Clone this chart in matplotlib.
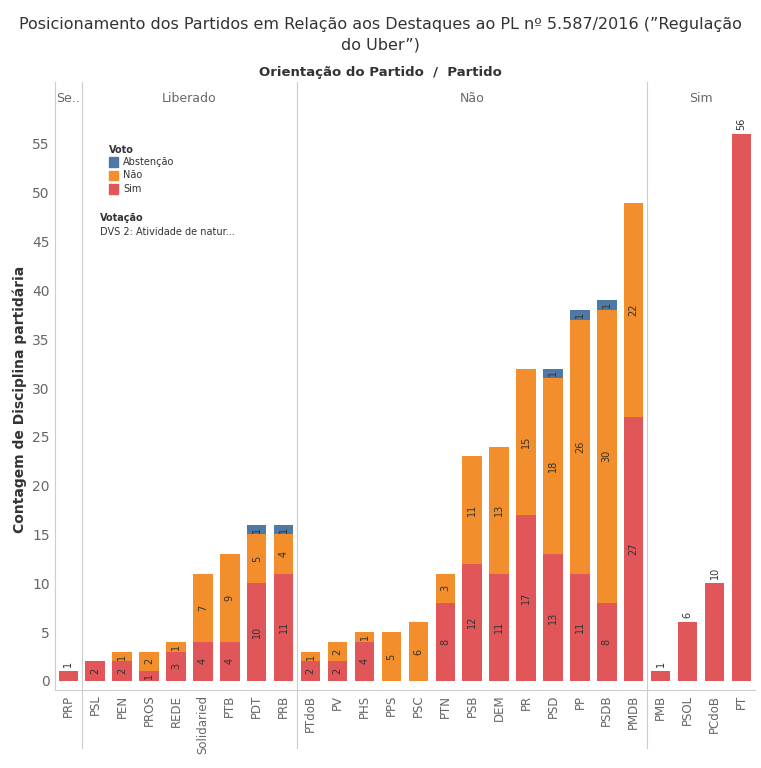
import matplotlib.pyplot as plt
from matplotlib.patches import Rectangle

groups = ['Se..', 'Liberado', 'Não', 'Sim']
group_parties = [
    ['PRP'],
    ['PSL', 'PEN', 'PROS', 'REDE', 'Solidaried', 'PTB', 'PDT', 'PRB'],
    ['PTdoB', 'PV', 'PHS', 'PPS', 'PSC', 'PTN', 'PSB', 'DEM', 'PR', 'PSD', 'PP', 'PSDB', 'PMDB'],
    ['PMB', 'PSOL', 'PCdoB', 'PT'],
]
sim = [1, 2, 2, 1, 3, 4, 4, 10, 11, 2, 2, 4, 0, 0, 8, 12, 11, 17, 13, 11, 8, 27, 1, 6, 10, 56]
nao = [0, 0, 1, 2, 1, 7, 9, 5, 4, 1, 2, 1, 5, 6, 3, 11, 13, 15, 18, 26, 30, 22, 0, 0, 0, 0]
abst = [0, 0, 0, 0, 0, 0, 0, 1, 1, 0, 0, 0, 0, 0, 0, 0, 0, 0, 1, 1, 1, 0, 0, 0, 0, 0]

c_sim, c_nao, c_abs = '#e15759', '#f28e2b', '#4e79a7'
gray = '#666666'

parties = [p for g in group_parties for p in g]
x = list(range(len(parties)))

fig = plt.figure(figsize=(7.61, 7.68), dpi=100)
ax = fig.add_axes([0.072, 0.102, 0.920, 0.755])
w = 0.72
ax.bar(x, sim, w, color=c_sim)
ax.bar(x, nao, w, bottom=sim, color=c_nao)
ax.bar(x, abst, w, bottom=[s + n for s, n in zip(sim, nao)], color=c_abs)

on_top = set(group_parties[0] + group_parties[3])
for i, p in enumerate(parties):
    if p in on_top:
        ax.text(i, sim[i] + 0.4, str(sim[i]), rotation=90, ha='center', va='bottom', fontsize=7, color='#333333')
        continue
    base = 0
    for v in (sim[i], nao[i], abst[i]):
        if v:
            ax.text(i, base + v / 2, str(v), rotation=90, ha='center', va='center', fontsize=7, color='#333333')
        base += v

ax.set_xlim(-0.5, len(parties) - 0.5)
ax.set_ylim(-0.9, 58.5)
ax.set_yticks(range(0, 56, 5))
ax.set_xticks(x)
ax.set_xticklabels(parties, rotation=90, fontsize=8.5, color=gray)
ax.tick_params(axis='y', colors=gray, labelsize=10, length=0)
ax.tick_params(axis='x', length=0)
for s in ['top', 'right']:
    ax.spines[s].set_visible(False)
ax.spines['left'].set_color('#cccccc')
ax.spines['bottom'].set_color('#cccccc')
ax.set_ylabel('Contagem de Disciplina partidária', fontsize=10, fontweight='bold', color='#333333')

# group separators and headers
start = 0
for g, ps in zip(groups, group_parties):
    end = start + len(ps)
    if start > 0:
        ax.plot([start - 0.5, start - 0.5], [-0.1, 1.048], transform=ax.get_xaxis_transform(),
                color='#cccccc', lw=0.8, clip_on=False)
    ax.text((start + end - 1) / 2, 1.019, g, transform=ax.get_xaxis_transform(),
            ha='center', va='center', fontsize=9, color=gray)
    start = end
ax.plot([-0.5, -0.5], [1, 1.048], transform=ax.get_xaxis_transform(),
        color='#cccccc', lw=0.8, clip_on=False)

fig.text(0.5, 0.905, 'Orientação do Partido  /  Partido', ha='center', va='center',
         fontsize=9.5, fontweight='bold', color='#333333')
fig.text(0.5, 0.955, 'Posicionamento dos Partidos em Relação aos Destaques ao PL nº 5.587/2016 (”Regulação\ndo Uber”)',
         ha='center', va='center', fontsize=11.5, color='#333333', linespacing=1.45)

# legend
fig.text(0.143, 0.805, 'Voto', fontsize=7, fontweight='bold', color='#333333', va='center')
for k, (lab, c) in enumerate([('Abstenção', c_abs), ('Não', c_nao), ('Sim', c_sim)]):
    yy = 0.789 - k * 0.0175
    fig.patches.append(Rectangle((0.143, yy - 0.006), 0.012, 0.012, color=c, transform=fig.transFigure))
    fig.text(0.162, yy, lab, fontsize=7, color='#333333', va='center')
fig.text(0.131, 0.716, 'Votação', fontsize=7, fontweight='bold', color='#333333', va='center')
fig.text(0.131, 0.698, 'DVS 2: Atividade de natur...', fontsize=7, color='#333333', va='center')

fig.savefig('out.png', dpi=100)
